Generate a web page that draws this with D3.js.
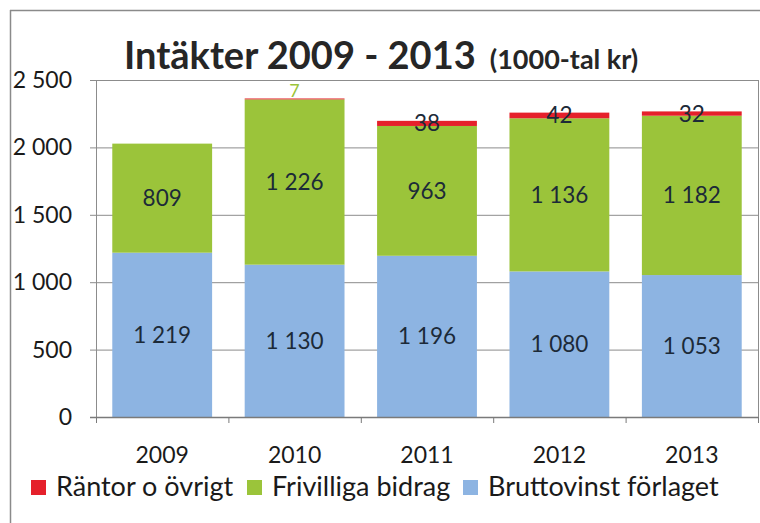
<!DOCTYPE html>
<html>
<head>
<meta charset="utf-8">
<script src="https://cdn.jsdelivr.net/npm/d3@7"></script>
<style>
  body { margin: 0; background: #fff; }
  svg { display: block; font-family: Lato, "Open Sans", sans-serif; }
</style>
</head>
<body>
<div class="box"></div>
<script>
// Data
const years = ['2009', '2010', '2011', '2012', '2013'];
const brutto = [1219, 1130, 1196, 1080, 1053];
const frivilliga = [809, 1226, 963, 1136, 1182];
const rantor = [0, 7, 38, 42, 32];
const yTicks = [0, 500, 1000, 1500, 2000, 2500];
const seriesNames = ['Räntor o övrigt', 'Frivilliga bidrag', 'Bruttovinst förlaget'];

const colors = { brutto: '#8db4e2', friv: '#9bc43a', rantor: '#e5202b' };

const svg = d3.select('.box')
              .append('svg')
              .attr('width', 760)
              .attr('height', 523);

// outer frame
svg.append('line').attr('x1', 10).attr('x2', 760).attr('y1', 10.5).attr('y2', 10.5)
   .attr('stroke', '#8a8a8a').attr('stroke-width', 1.5);
svg.append('line').attr('x1', 10.5).attr('x2', 10.5).attr('y1', 10).attr('y2', 523)
   .attr('stroke', '#8a8a8a').attr('stroke-width', 1.5);

// plot area
const pLeft = 96, pRight = 758, pTop = 80, pBottom = 417;

const y = d3.scaleLinear().domain([0, 2500]).range([pBottom, pTop]);
const x = d3.scaleBand().domain(years).range([pLeft, pRight])
            .paddingInner(0.246).paddingOuter(0.123);

const fmt = d => d3.format(',')(d).replace(',', ' ');

// gridlines + y ticks
svg.append('g').selectAll('line')
   .data(yTicks)
   .join('line')
   .attr('x1', pLeft - 6).attr('x2', pRight)
   .attr('y1', d => y(d) + 0.5).attr('y2', d => y(d) + 0.5)
   .attr('stroke', '#8c8c8c').attr('stroke-width', 1);

svg.append('g').selectAll('text')
   .data(yTicks)
   .join('text')
   .attr('x', 72).attr('y', d => y(d) + 8)
   .attr('text-anchor', 'end')
   .attr('font-size', 23)
   .attr('fill', '#1a1a1a')
   .text(fmt);

// axis lines
svg.append('line').attr('x1', pLeft + 0.5).attr('x2', pLeft + 0.5).attr('y1', pTop).attr('y2', pBottom + 6)
   .attr('stroke', '#8c8c8c');
svg.append('line').attr('x1', pRight + 0.5).attr('x2', pRight + 0.5).attr('y1', pTop).attr('y2', pBottom + 6)
   .attr('stroke', '#8c8c8c');

// stacked data
const rows = years.map((yr, i) => ({ year: yr, brutto: brutto[i], friv: frivilliga[i], rantor: rantor[i] }));
const keys = ['brutto', 'friv', 'rantor'];
const stack = d3.stack().keys(keys)(rows);

const layers = svg.append('g').selectAll('g')
   .data(stack)
   .join('g')
   .attr('fill', d => colors[d.key]);

layers.selectAll('rect')
   .data(d => d)
   .join('rect')
   .attr('x', d => x(d.data.year))
   .attr('width', x.bandwidth())
   .attr('y', d => y(d[1]))
   .attr('height', d => y(d[0]) - y(d[1]));

// labels
const small = (key, d) => key === 'rantor' && d[1] - d[0] < 20;
stack.forEach(layer => {
  svg.append('g').selectAll('text')
     .data(layer.filter(d => d[1] - d[0] > 0))
     .join('text')
     .attr('x', d => x(d.data.year) + x.bandwidth() / 2)
     .attr('y', d => small(layer.key, d) ? y(d[1]) - 1 : (y(d[0]) + y(d[1])) / 2 + 8)
     .attr('text-anchor', 'middle')
     .attr('font-size', d => small(layer.key, d) ? 18 : 22.5)
     .attr('fill', d => small(layer.key, d) ? colors.friv : '#1c2a38')
     .text(d => fmt(d[1] - d[0]));
});

// x axis
svg.append('line').attr('x1', pLeft - 6).attr('x2', pRight).attr('y1', pBottom + 0.5).attr('y2', pBottom + 0.5)
   .attr('stroke', '#7a7a7a').attr('stroke-width', 1.5);

const step = x.step();
const boundaries = years.map(d => x(d) - step * x.paddingInner() / 2).concat([pRight]);
svg.append('g').selectAll('line')
   .data(boundaries)
   .join('line')
   .attr('x1', d => d + 0.5).attr('x2', d => d + 0.5)
   .attr('y1', pBottom).attr('y2', pBottom + 6)
   .attr('stroke', '#7a7a7a');

svg.append('g').selectAll('text')
   .data(years)
   .join('text')
   .attr('x', d => x(d) + x.bandwidth() / 2)
   .attr('y', 463)
   .attr('text-anchor', 'middle')
   .attr('font-size', 23)
   .attr('fill', '#1a1a1a')
   .text(d => d);

// title
const title = svg.append('text').attr('x', 124).attr('y', 69).attr('fill', '#262626');
title.append('tspan').attr('font-size', 38).attr('font-weight', 'bold').text('Intäkter 2009 - 2013');
title.append('tspan').attr('font-size', 27).attr('font-weight', 'bold').attr('dx', 14).text('(1000-tal kr)');

// legend
const legendX = [31, 247, 463];
const legendColors = [colors.rantor, colors.friv, colors.brutto];
const legend = svg.append('g').selectAll('g')
   .data(seriesNames)
   .join('g')
   .attr('transform', (d, i) => `translate(${legendX[i]}, 480)`);
legend.append('rect').attr('width', 15).attr('height', 15).attr('fill', (d, i) => legendColors[i]);
legend.append('text').attr('x', 25).attr('y', 16).attr('font-size', 27).attr('fill', '#1a1a1a').text(d => d);
</script>
</body>
</html>
